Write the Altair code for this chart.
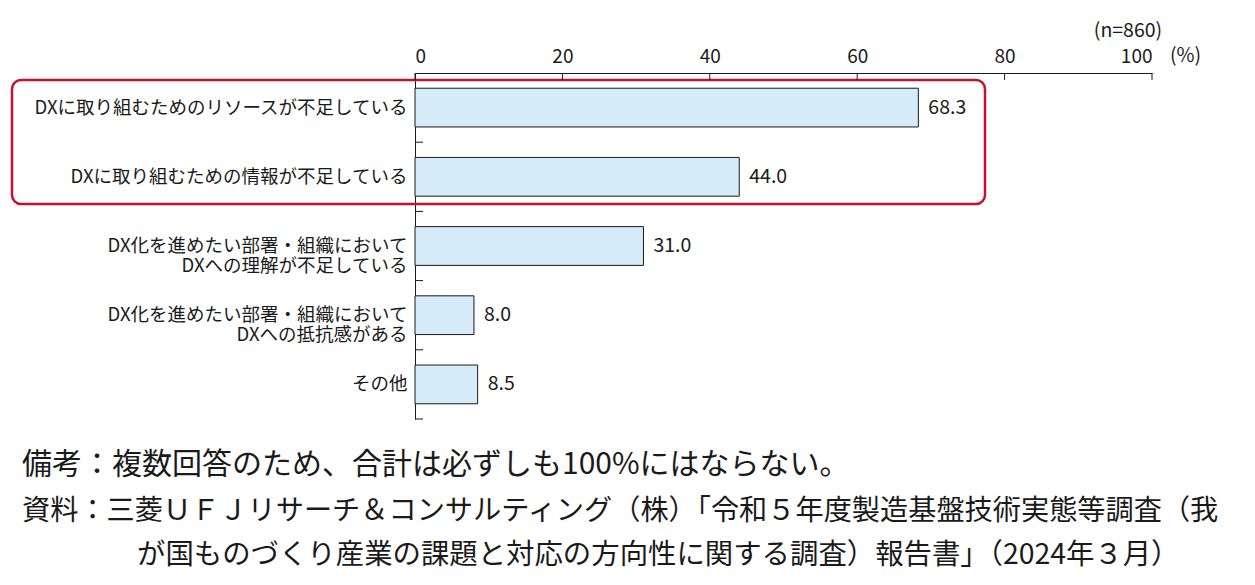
import altair as alt
import pandas as pd

categories = [
    "DXに取り組むためのリソースが不足している",
    "DXに取り組むための情報が不足している",
    "DX化を進めたい部署・組織において|DXへの理解が不足している",
    "DX化を進めたい部署・組織において|DXへの抵抗感がある",
    "その他",
]
values = [68.3, 44.0, 31.0, 8.0, 8.5]
x_ticks = [0, 20, 40, 60, 80, 100]
note_lines = [
    "備考：複数回答のため、合計は必ずしも100%にはならない。",
    "資料：三菱ＵＦＪリサーチ＆コンサルティング（株）「令和５年度製造基盤技術実態等調査（我",
    "が国ものづくり産業の課題と対応の方向性に関する調査）報告書」（2024年３月）",
]

FONT = "Noto Sans CJK JP"
INK = "#1a1a1a"
df = pd.DataFrame({"cat": categories, "val": values,
                   "lbl": [f"{v:.1f}" for v in values]})

yscale = alt.Scale(domain=categories, paddingInner=0, paddingOuter=0)
xscale = alt.Scale(domain=[0, 100], nice=False)

base = alt.Chart(df)

bars = base.mark_bar(
    color="#d5ebf8", stroke=INK, strokeWidth=1,
    height=alt.RelativeBandSize(0.56)
).encode(
    y=alt.Y("cat:N", sort=categories, scale=yscale,
            axis=alt.Axis(title=None, ticks=False, domain=True, domainColor=INK,
                          labelExpr="split(datum.label, '|')", labelFontSize=18.5,
                          labelFont=FONT, labelColor=INK, labelPadding=8,
                          labelLineHeight=20, labelLimit=500)),
    x=alt.X("val:Q", scale=xscale,
            axis=alt.Axis(orient="top", title=None, values=x_ticks, grid=False,
                          ticks=False, domainColor=INK,
                          labelFontSize=19, labelFont=FONT, labelColor=INK,
                          labelPadding=7)),
)

labels = base.mark_text(align="left", baseline="middle", dx=10, fontSize=19.5,
                        font=FONT, color=INK).encode(
    y=alt.Y("cat:N", sort=categories, scale=yscale),
    x=alt.X("val:Q", scale=xscale),
    text="lbl:N",
)

# inward ticks on the category axis (band boundaries)
yticks = base.mark_rule(color=INK, strokeWidth=1).encode(
    y=alt.Y("cat:N", sort=categories, scale=yscale, bandPosition=1),
    x=alt.value(0), x2=alt.value(8),
)

# inward ticks on the top value axis
xticks = alt.Chart(pd.DataFrame({"v": x_ticks})).mark_rule(color=INK, strokeWidth=1).encode(
    x=alt.X("v:Q", scale=xscale),
    y=alt.value(0), y2=alt.value(7),
)

box = alt.Chart(pd.DataFrame({"k": [0]})).mark_rect(
    fill=None, fillOpacity=0, stroke="#c8102e", strokeWidth=2.5, cornerRadius=9
).encode(
    x=alt.value(-403), x2=alt.value(570), y=alt.value(7), y2=alt.value(131)
)

n_text = alt.Chart(pd.DataFrame({"t": ["(n=860)"]})).mark_text(
    fontSize=19.5, font=FONT, color=INK, align="center", baseline="middle"
).encode(x=alt.value(713), y=alt.value(-42), text="t:N")

pct_text = alt.Chart(pd.DataFrame({"t": ["(%)"]})).mark_text(
    fontSize=19.5, font=FONT, color=INK, align="left", baseline="bottom"
).encode(x=alt.value(755), y=alt.value(-7), text="t:N")

notes_df = pd.DataFrame({"t": note_lines, "xp": [-393, -393, -278],
                         "yp": [392, 439, 482], "fs": [30, 28.2, 28.4]})
notes = alt.Chart(notes_df).mark_text(
    font=FONT, color=INK, align="left", baseline="middle"
).encode(x=alt.X("xp:Q", scale=None), y=alt.Y("yp:Q", scale=None),
         size=alt.Size("fs:Q", scale=None, legend=None), text="t:N")

chart = alt.layer(box, bars, yticks, xticks, labels, n_text, pct_text, notes).properties(
    width=737, height=346,
    autosize=alt.AutoSizeParams(type="none"),
    padding={"left": 415, "top": 73, "right": 103, "bottom": 166},
    background="white",
).configure_view(stroke=None)

chart.save("out.html", embed_options={"renderer": "svg", "actions": False})
